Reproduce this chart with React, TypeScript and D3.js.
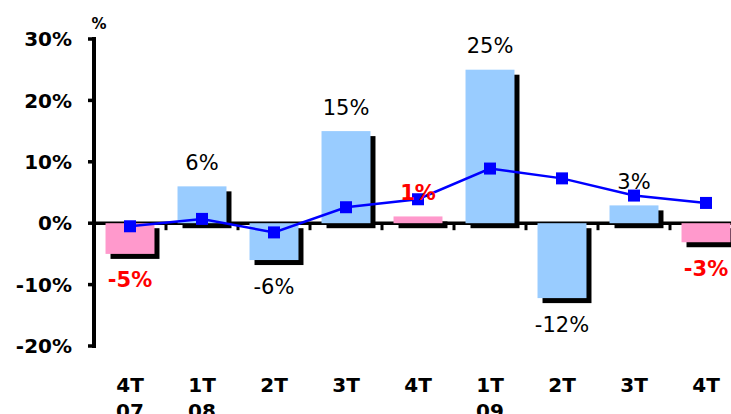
import React from "react";
import * as d3 from "d3";

const categories = ["4T|07", "1T|08", "2T", "3T", "4T", "1T|09", "2T", "3T", "4T"];
const barValues = [-5, 6, -6, 15, 1.1, 25, -12.2, 2.9, -3.1];
const barLabels = ["-5%", "6%", "-6%", "15%", "1%", "25%", "-12%", "3%", "-3%"];
const highlight = [true, false, false, false, true, false, false, false, true];
const lineValues = [-0.5, 0.7, -1.5, 2.6, 3.9, 8.9, 7.3, 4.5, 3.3];
const yTicks = [30, 20, 10, 0, -10, -20];

const W = 731;
const H = 414;
const BLUE_BAR = "#99CCFF";
const PINK_BAR = "#FF99CC";
const LINE = "#0000FF";
const FONT = "'DejaVu Sans', Verdana, sans-serif";

export default function App() {
  const ids = categories.map((_, i) => String(i));
  const x = d3.scaleBand<string>().domain(ids).range([94, 742]).padding(0);
  const y = d3.scaleLinear().domain([-20, 30]).range([346, 39]);
  const bw = x.bandwidth() * 0.68;
  const cx = (i: number) => (x(String(i)) as number) + x.bandwidth() / 2;
  const y0 = y(0);
  const sh = 5;

  const lineGen = d3
    .line<number>()
    .x((_, i) => cx(i))
    .y((d) => y(d));

  return (
    <div style={{ position: "fixed", left: 0, top: 0, width: W, height: H, background: "#fff" }}>
      <svg width={W} height={H} style={{ display: "block" }}>
        <rect x={0} y={0} width={W} height={H} fill="#fff" />
        {/* shadows */}
        {barValues.map((v, i) => {
          const top = Math.min(y(v), y0);
          const h = Math.abs(y(v) - y0);
          return (
            <rect key={"s" + i} x={cx(i) - bw / 2 + sh} y={top + sh} width={bw} height={h} fill="#000" />
          );
        })}
        {/* zero line */}
        <line x1={93} x2={W} y1={y0} y2={y0} stroke="#000" strokeWidth={3.5} />
        {/* category ticks on zero line */}
        {categories.map((_, i) =>
          i === 0 ? null : (
            <line key={"ct" + i} x1={x(String(i)) as number} x2={x(String(i)) as number} y1={y0} y2={y0 + 7} stroke="#000" strokeWidth={3} />
          )
        )}
        {/* bars */}
        {barValues.map((v, i) => {
          const top = Math.min(y(v), y0);
          const h = Math.abs(y(v) - y0);
          return (
            <rect key={"b" + i} x={cx(i) - bw / 2} y={top} width={bw} height={h} fill={highlight[i] ? PINK_BAR : BLUE_BAR} />
          );
        })}
        {/* y axis */}
        <line x1={94} x2={94} y1={y(30) - 2} y2={y(-20) + 2} stroke="#000" strokeWidth={4} />
        {yTicks.map((t) => (
          <g key={"yt" + t}>
            <line x1={88} x2={94} y1={y(t)} y2={y(t)} stroke="#000" strokeWidth={3.5} />
            <text x={72} y={y(t)} dy="0.36em" textAnchor="end" fontFamily={FONT} fontWeight="bold" fontSize={20} fill="#000">
              {t + "%"}
            </text>
          </g>
        ))}
        <text x={99} y={29} textAnchor="middle" fontFamily={FONT} fontWeight="bold" fontSize={15} fill="#000">%</text>
        {/* line series */}
        <path d={lineGen(lineValues) || ""} fill="none" stroke={LINE} strokeWidth={2.5} />
        {lineValues.map((v, i) => (
          <rect key={"m" + i} x={cx(i) - 6} y={y(v) - 6} width={12} height={12} fill={LINE} />
        ))}
        {/* value labels */}
        {barValues.map((v, i) => {
          const ly = v >= 0 ? y(v) - 24 : y(v) + 26;
          return (
            <text
              key={"l" + i}
              x={cx(i)}
              y={ly}
              dy="0.36em"
              textAnchor="middle"
              fontFamily={FONT}
              fontSize={21}
              fontWeight={highlight[i] ? "bold" : "normal"}
              fill={highlight[i] ? "#FF0000" : "#000"}
            >
              {barLabels[i]}
            </text>
          );
        })}
        {/* category labels */}
        {categories.map((c, i) => {
          const parts = c.split("|");
          return (
            <text key={"c" + i} textAnchor="middle" fontFamily={FONT} fontWeight="bold" fontSize={20} fill="#000">
              {parts.map((p, j) => (
                <tspan key={j} x={cx(i)} y={392 + j * 26}>
                  {p}
                </tspan>
              ))}
            </text>
          );
        })}
      </svg>
    </div>
  );
}
